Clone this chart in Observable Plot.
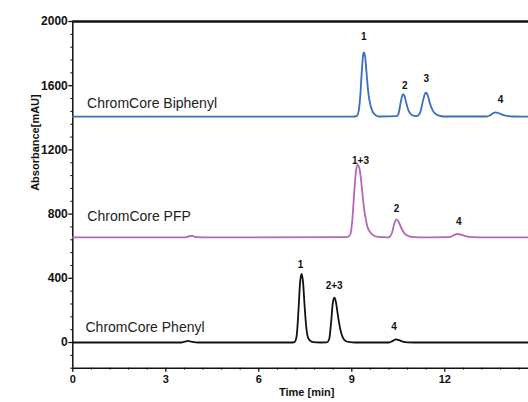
<!DOCTYPE html>
<html>
<head>
<meta charset="utf-8">
<script src="https://cdn.jsdelivr.net/npm/d3@7"></script>
<script src="https://cdn.jsdelivr.net/npm/@observablehq/plot@0.6"></script>
<style>
  html, body { margin: 0; padding: 0; background: #fff; }
  svg { display: block; }
</style>
</head>
<body>
<div id="chart"></div>
<script>
// ---- Data ----
const biphenylTime = [0, 9.05, 9.15, 9.22, 9.27, 9.32, 9.36, 9.39, 9.43, 9.48, 9.53, 9.60, 9.68, 9.78, 9.90, 10.45, 10.52, 10.58, 10.63, 10.66, 10.70, 10.76, 10.83, 10.92, 11.02, 11.08, 11.15, 11.22, 11.30, 11.36, 11.40, 11.45, 11.52, 11.60, 11.70, 11.82, 11.95, 13.35, 13.48, 13.58, 13.63, 13.72, 13.85, 14.00, 14.20, 14.70];
const biphenylAbs  = [1407, 1407, 1410, 1440, 1530, 1680, 1785, 1808, 1780, 1670, 1560, 1480, 1435, 1415, 1408, 1410, 1435, 1500, 1540, 1548, 1535, 1490, 1445, 1420, 1412, 1411, 1416, 1440, 1510, 1550, 1556, 1540, 1490, 1450, 1425, 1413, 1408, 1408, 1418, 1431, 1434, 1430, 1420, 1412, 1408, 1407];

const pfpTime = [0, 3.60, 3.75, 3.85, 4.00, 4.20, 8.85, 8.95, 9.02, 9.08, 9.14, 9.19, 9.24, 9.30, 9.36, 9.43, 9.50, 9.60, 9.72, 9.85, 10.15, 10.22, 10.30, 10.37, 10.44, 10.51, 10.60, 10.70, 10.80, 10.95, 11.15, 12.10, 12.25, 12.40, 12.55, 12.70, 12.90, 13.10, 14.70];
const pfpAbs  = [655, 655, 662, 664, 656, 655, 656, 672, 770, 940, 1075, 1106, 1090, 1010, 895, 790, 725, 685, 665, 658, 655, 658, 685, 740, 767, 752, 712, 680, 665, 658, 655, 656, 664, 676, 670, 661, 656, 655, 655];

const phenylTime = [0, 3.50, 3.62, 3.71, 3.82, 3.95, 4.10, 7.10, 7.15, 7.22, 7.28, 7.33, 7.38, 7.43, 7.48, 7.54, 7.60, 7.70, 7.85, 8.00, 8.20, 8.27, 8.33, 8.39, 8.44, 8.49, 8.55, 8.62, 8.70, 8.80, 8.95, 9.10, 10.20, 10.32, 10.42, 10.52, 10.65, 10.80, 11.00, 14.70];
const phenylAbs  = [0, 0, 6, 10, 6, 1, 0, 0, 2, 40, 200, 370, 427, 370, 220, 80, 25, 6, 1, 0, 1, 20, 120, 250, 279, 250, 170, 90, 35, 10, 2, 0, 0, 10, 20, 15, 5, 1, 0, 0];

const seriesNames = ["ChromCore Biphenyl", "ChromCore PFP", "ChromCore Phenyl"];
const seriesNameTime = [0.46, 0.47, 0.41];
const seriesNameAbs  = [1491, 785, 93];

const peakLabels    = ["1", "2", "3", "4", "1+3", "2", "4", "1", "2+3", "4"];
const peakLabelTime = [9.39, 10.71, 11.40, 13.80, 9.28, 10.44, 12.45, 7.35, 8.43, 10.36];
const peakLabelAbs  = [1902, 1601, 1643, 1512, 1134, 833, 750, 486, 355, 95];

const yMajorTicks = [0, 400, 800, 1200, 1600, 2000];
const xMajorTicks = [0, 3, 6, 9, 12];

// ---- Build tables ----
const rows = (t, v) => t.map((x, i) => ({t: x, a: v[i]}));
const biphenyl = rows(biphenylTime, biphenylAbs);
const pfp = rows(pfpTime, pfpAbs);
const phenyl = rows(phenylTime, phenylAbs);
const names = seriesNames.map((s, i) => ({s, t: seriesNameTime[i], a: seriesNameAbs[i]}));
const peaks = peakLabels.map((s, i) => ({s, t: peakLabelTime[i], a: peakLabelAbs[i]}));

const yMinor = d3.range(-160, 2001, 80).filter(v => v % 400 !== 0);
const xMinor = d3.range(0, 14.71, 0.6).map(v => +v.toFixed(2)).filter(v => Math.abs(v / 3 - Math.round(v / 3)) > 1e-6);

const font = "'Liberation Sans', Arial, sans-serif";

const chart = Plot.plot({
  width: 528,
  height: 402,
  marginLeft: 72.3,
  marginRight: 0,
  marginTop: 21,
  marginBottom: 34.3,
  style: {fontFamily: font, background: "#fff", color: "#111"},
  x: {domain: [0, 14.7]},
  y: {domain: [-160, 2000]},
  marks: [
    // minor ticks
    Plot.axisY({ticks: yMinor, tickSize: 2, tickFormat: () => "", label: null, strokeWidth: 1}),
    Plot.axisX({ticks: xMinor, tickSize: 2, tickFormat: () => "", label: null, strokeWidth: 1}),
    // major ticks
    Plot.axisY({ticks: yMajorTicks, tickSize: 4, tickPadding: 1, tickFormat: d => String(d), label: null, fontSize: 12, fontWeight: "bold", strokeWidth: 1.3}),
    Plot.axisX({ticks: xMajorTicks, tickSize: 4, tickPadding: 3, tickFormat: d => String(d), label: null, fontSize: 11, fontWeight: "bold", strokeWidth: 1.3}),
    // frame lines
    Plot.ruleX([0], {stroke: "#111", strokeWidth: 1.5}),
    Plot.ruleY([-160], {stroke: "#111", strokeWidth: 1.5}),
    Plot.ruleY([2000], {stroke: "#111", strokeWidth: 2.5}),
    // traces
    Plot.line(biphenyl, {x: "t", y: "a", stroke: "#3b6cc0", strokeWidth: 1.8, curve: "monotone-x"}),
    Plot.line(pfp, {x: "t", y: "a", stroke: "#b466b9", strokeWidth: 1.8, curve: "monotone-x"}),
    Plot.line(phenyl, {x: "t", y: "a", stroke: "#111", strokeWidth: 1.8, curve: "monotone-x"}),
    // series names
    Plot.text(names, {x: "t", y: "a", text: "s", textAnchor: "start", fontSize: 14, fill: "#222"}),
    // peak labels
    Plot.text(peaks, {x: "t", y: "a", text: "s", fontSize: 10, fontWeight: "bold", fill: "#111"}),
    // axis titles
    Plot.text(["Time [min]"], {frameAnchor: "bottom", dx: 6, dy: 28, fontSize: 11, fontWeight: "bold", fill: "#111"}),
    Plot.text(["Absorbance[mAU]"], {frameAnchor: "left", dx: -37, dy: -4, rotate: -90, fontSize: 11, fontWeight: "bold", fill: "#111"})
  ]
});
document.getElementById("chart").appendChild(chart);
</script>
</body>
</html>
